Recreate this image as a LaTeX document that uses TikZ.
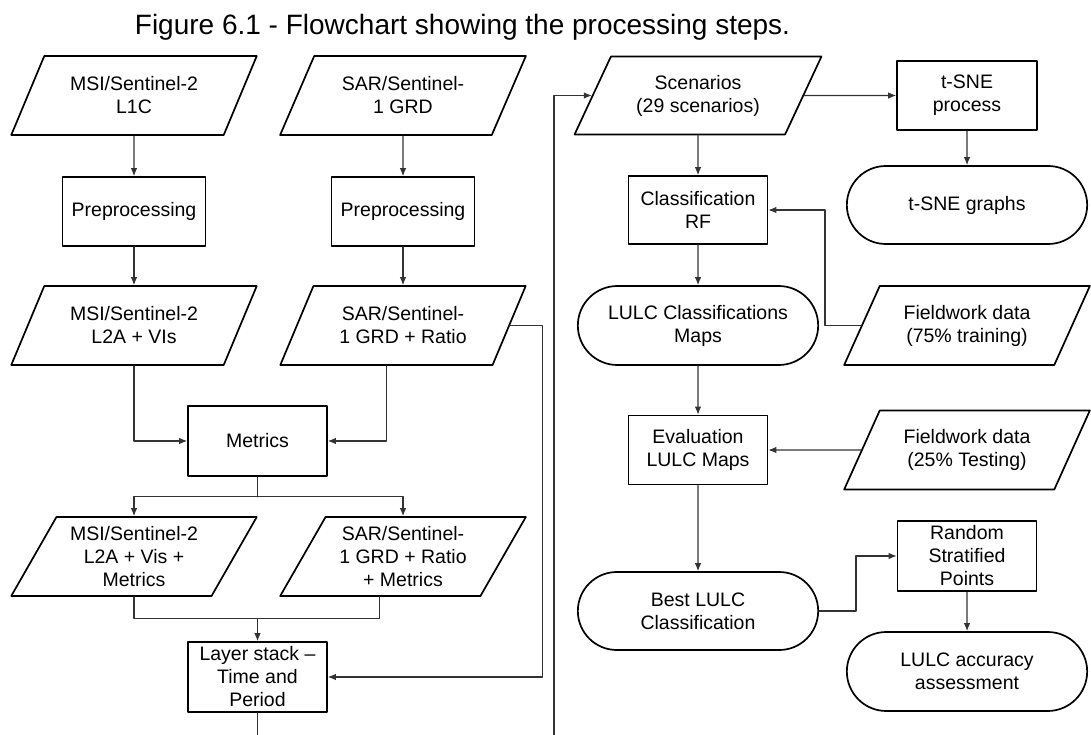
\documentclass[tikz,border=0pt]{standalone}
\usepackage{fontspec}
\setmainfont{Liberation Sans}
\usepackage{tikz}
\usetikzlibrary{arrows.meta,shapes.geometric,shapes.misc}
\tikzset{
  every picture/.style={line join=round, line cap=round, >={Latex[length=8pt,width=6.5pt]}},
  proc/.style={draw, line width=1.7pt, minimum width=139pt, minimum height=69pt, align=center, inner sep=2pt},
  io/.style={trapezium, trapezium left angle=58.7, trapezium right angle=121.3, trapezium stretches=true,
    draw, line width=1.7pt, minimum width=246pt, minimum height=79pt, align=center, inner sep=1pt},
  term/.style={rounded rectangle, draw, line width=1.7pt, minimum width=247pt, minimum height=78pt, align=center},
  conn/.style={->, line width=1.1pt, black!80},
  line/.style={line width=1.1pt, black!80},
}

\begin{document}
\begin{tikzpicture}[x=1pt,y=-1pt,font=\fontsize{19.5}{23}\selectfont]
\useasboundingbox (0,0) rectangle (1091,735);
\node[anchor=base,font=\fontsize{28}{32}\selectfont] (title) at (462.5,35) {Figure 6.1 - Flowchart showing the processing steps.};
% left column
\node[io] (msiA) at (134,95.5) {MSI/Sentinel-2\\L1C};
\node[io] (sarA) at (403,95.5) {SAR/Sentinel-\\1 GRD};
\node[proc,minimum width=143pt] (msiPre) at (134,211.5) {Preprocessing};
\node[proc,minimum width=143pt] (sarPre) at (403,211.5) {Preprocessing};
\node[io] (msiB) at (134,325.5) {MSI/Sentinel-2\\L2A + VIs};
\node[io] (sarB) at (403,325.5) {SAR/Sentinel-\\1 GRD + Ratio};
\node[proc,minimum height=70pt] (metrics) at (257.5,441) {Metrics};
\node[io] (msiC) at (134,556.5) {MSI/Sentinel-2\\L2A + Vis +\\Metrics};
\node[io] (sarC) at (403,556.5) {SAR/Sentinel-\\1 GRD + Ratio\\+ Metrics};
\node[proc,minimum height=70pt] (layer) at (257.5,677) {Layer stack –\\Time and\\Period};
\coordinate (cutL) at (257.5,735);
\coordinate (cutR) at (554,735);
% right column
\node[io,minimum width=247pt,minimum height=78pt] (scen) at (698,95.5) {Scenarios\\(29 scenarios)};
\node[proc,minimum width=140pt] (tsneP) at (967,95.5) {t-SNE\\process};
\node[term] (tsneG) at (967,205) {t-SNE graphs};
\node[proc,minimum height=68pt] (classRF) at (698,210) {Classification\\RF};
\node[term,minimum height=79pt] (lulcMaps) at (698,325.5) {LULC Classifications\\Maps};
\node[io] (fw75) at (967,325.5) {Fieldwork data\\(75\% training)};
\node[proc] (eval) at (698,450) {Evaluation\\LULC Maps};
\node[io] (fw25) at (967,450) {Fieldwork data\\(25\% Testing)};
\node[term] (best) at (698,611) {Best LULC\\Classification};
\node[proc,minimum height=70pt] (rsp) at (967,556) {Random\\Stratified\\Points};
\node[term,minimum height=79pt] (acc) at (967,671.5) {LULC accuracy\\assessment};
% straight arrows
\foreach \a/\b in {msiA/msiPre, sarA/sarPre, msiPre/msiB, sarPre/sarB, scen/tsneP, tsneP/tsneG,
  scen/classRF, classRF/lulcMaps, lulcMaps/eval, fw25/eval, eval/best, rsp/acc}{
  \draw[conn] (\a) -- (\b);
}
% into metrics
\draw[conn] (msiB.south -| msiB) |- (metrics.west);
\draw[conn] (sarB.bottom side) |- (metrics.east);
\draw[line] (metrics.south) -- ++(0,20) coordinate (split);
\draw[conn] (split) -| (msiC);
\draw[conn] (split) -| (sarC);
% into layer stack
\draw[line] (msiC.south -| msiC) -- ++(0,22) -| (sarC.bottom side);
\draw[conn] (msiC.south -| layer) ++(0,22) -- (layer);
\draw[conn] (sarB.right side) -- ++(32,0) |- (layer);
\draw[line] (layer) -- (cutL);
% to scenarios
\draw[conn] (cutR) |- (scen);
\draw[conn] (fw75.left side) -- ++(-36,0) |- (classRF);
\draw[conn] (best.east) -- ++(37,0) |- (rsp);
\end{tikzpicture}
\end{document}
